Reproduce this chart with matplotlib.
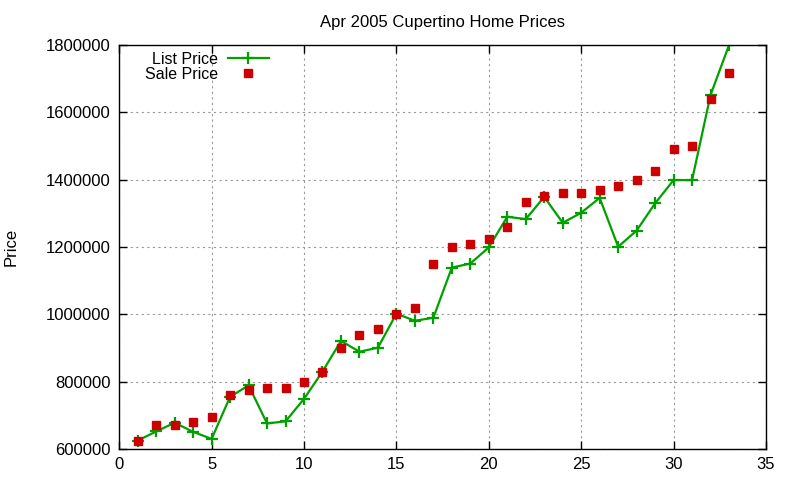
import matplotlib
matplotlib.use('Agg')
import matplotlib.pyplot as plt

# Home index (1..33) and prices
homes = list(range(1, 34))
list_price = [625000, 652000, 678000, 651000, 630000, 755000, 789000, 676000, 682000, 749000,
              830000, 921000, 889000, 901000, 1002000, 981000, 990000, 1139000, 1151000, 1199000,
              1290000, 1283000, 1349000, 1272000, 1302000, 1346000, 1201000, 1249000, 1330000, 1399000,
              1399000, 1652000, 1800000]
sale_price = [625000, 672000, 671000, 681000, 694000, 760000, 776000, 782000, 782000, 800000,
              830000, 901000, 940000, 957000, 1002000, 1020000, 1150000, 1200000, 1210000, 1224000,
              1260000, 1335000, 1352000, 1361000, 1361000, 1370000, 1382000, 1400000, 1427000, 1491000,
              1501000, 1640000, 1718000]

plt.rcParams['font.family'] = ['Liberation Sans', 'DejaVu Sans']
plt.rcParams['font.size'] = 12

fig = plt.figure(figsize=(8, 4.8), dpi=100)
ax = fig.add_axes([0.149, 0.0646, 0.8085, 0.8414])

ax.plot(homes, list_price, color='#00a000', linewidth=1.6, marker='+',
        markersize=8, markeredgewidth=1.6, label='List Price')
ax.plot(homes, sale_price, linestyle='None', color='#cc0000', marker='s',
        markersize=6, label='Sale Price')

## Axis
ax.set_xlim(0, 35)
ax.set_ylim(600000, 1800000)
ax.set_xticks(range(0, 36, 5))
ax.set_yticks(range(600000, 1800001, 200000))
ax.ticklabel_format(style='plain', useOffset=False)
ax.tick_params(direction='in', top=True, right=True, length=6, width=1, labelsize=12, pad=6)
ax.set_ylabel('Price', fontsize=12, labelpad=20)

## Title
ax.set_title('Apr 2005 Cupertino Home Prices', fontsize=12, pad=13)

## Lines
ax.grid(True, linestyle=(0, (2, 3)), linewidth=0.8, color='#999999')
for s in ax.spines.values():
    s.set_linewidth(1)

## Legend
ax.legend(loc='upper left', frameon=False, markerfirst=False, fontsize=11.5,
          handlelength=2.6, borderaxespad=0.0, bbox_to_anchor=(0.03, 1.0),
          labelspacing=0.0, handletextpad=0.6)

fig.savefig('out.png', dpi=100)
